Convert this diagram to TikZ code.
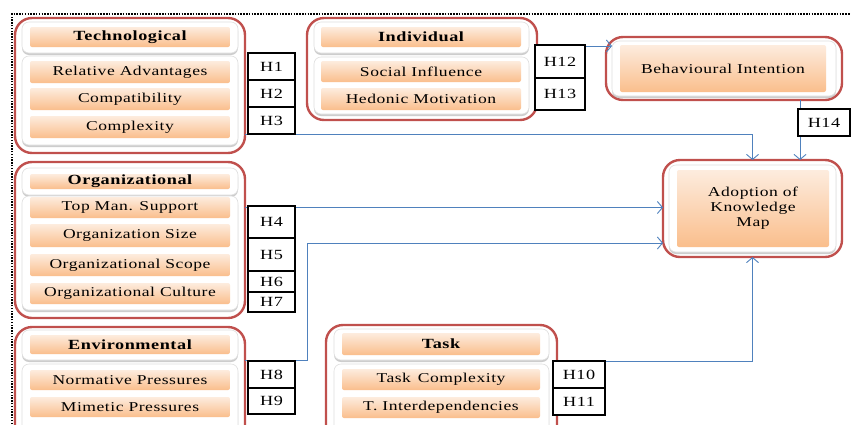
\documentclass[tikz,border=0pt]{standalone}
\usepackage{fontspec}
\setmainfont{Liberation Serif}[FakeStretch=1.3,LetterSpace=4]
\usetikzlibrary{arrows.meta,shadows}
\definecolor{redc}{RGB}{192,80,77}
\definecolor{bluec}{RGB}{79,129,189}
\definecolor{orTop}{RGB}{253,236,222}
\definecolor{orBot}{RGB}{250,190,140}
\tikzset{
  outerbox/.style={draw=redc,line width=2.4pt,rounded corners=17pt,fill=white},
  whitebox/.style={draw=gray!25,line width=0.6pt,rounded corners=7pt,fill=white,
     drop shadow={shadow xshift=0pt,shadow yshift=-2pt,fill=gray!55,opacity=0.7}},
  orangebox/.style={rounded corners=2pt,top color=orTop,bottom color=orBot,draw=none,
     font=\fontsize{13.5}{15}\selectfont},
  headbox/.style={orangebox,font=\fontsize{14}{15}\selectfont\bfseries},
  hbox/.style={draw=black,line width=1.3pt,fill=white,font=\fontsize{14}{15}\selectfont},
  conn/.style={draw=bluec,line width=0.9pt},
  arr/.style={conn,-{Straight Barb[length=5pt,width=12pt,line width=0.9pt]}},
  every node/.style={inner sep=0pt,outer sep=0pt,align=center}
}
\newcommand\boxat[7]{%
  \pgfmathsetmacro\bw{#5-#3}\pgfmathsetmacro\bh{#6-#4}%
  \node[#1,minimum width=\bw pt,minimum height=\bh pt,anchor=north west] (#2) at (#3,#4) {#7};}
\begin{document}
\begin{tikzpicture}[x=1pt,y=-1pt]
\useasboundingbox (0,0) rectangle (851,424);
% dotted frame
\draw[line width=1.5pt,dash pattern=on 1.5pt off 1.3pt] (12,424) -- (12,14) -- (851,14);

\coordinate (envturn) at (307,243);

% Technological
\boxat{outerbox}{techouter}{15}{18}{245}{153}{}
\boxat{whitebox}{techhw}{22}{22}{238}{53}{}
\boxat{headbox}{techh}{30}{27}{230}{47}{Technological}
\boxat{whitebox}{techiw}{22}{56}{238}{145}{}
\boxat{orangebox}{ra}{30}{61}{230}{83}{Relative Advantages}
\boxat{orangebox}{comp}{30}{88}{230}{110}{Compatibility}
\boxat{orangebox}{cplx}{30}{116}{230}{138}{Complexity}

% Individual
\boxat{outerbox}{indouter}{307}{18}{537}{120}{}
\boxat{whitebox}{indhw}{314}{22}{529}{53}{}
\boxat{headbox}{indh}{321}{27}{521}{47}{Individual}
\boxat{whitebox}{indiw}{314}{57}{529}{114}{}
\boxat{orangebox}{si}{321}{61}{521}{82}{Social Influence}
\boxat{orangebox}{hm}{321}{88}{521}{110}{Hedonic Motivation}

% Organizational
\boxat{outerbox}{orgouter}{15}{162}{245}{318}{}
\boxat{whitebox}{orghw}{22}{168}{238}{195}{}
\boxat{headbox}{orgh}{30}{174}{230}{189}{Organizational}
\boxat{whitebox}{orgiw}{22}{196}{238}{310}{}
\boxat{orangebox}{tms}{30}{197}{230}{218}{Top Man. Support}
\boxat{orangebox}{os}{30}{224}{230}{247}{Organization Size}
\boxat{orangebox}{osc}{30}{254}{230}{276}{Organizational Scope}
\boxat{orangebox}{oc}{30}{283}{230}{304}{Organizational Culture}

% Environmental
\boxat{outerbox}{envouter}{15}{327}{245}{445}{}
\boxat{whitebox}{envhw}{22}{330}{238}{360}{}
\boxat{headbox}{envh}{30}{335}{230}{354}{Environmental}
\boxat{whitebox}{enviw}{22}{364}{238}{435}{}
\boxat{orangebox}{np}{30}{370}{230}{390}{Normative Pressures}
\boxat{orangebox}{mp}{30}{397}{230}{417}{Mimetic Pressures}

% Task
\boxat{outerbox}{taskouter}{326}{325}{557}{445}{}
\boxat{whitebox}{taskhw}{334}{329}{549}{360}{}
\boxat{headbox}{taskh}{342}{333}{540}{355}{Task}
\boxat{whitebox}{taskiw}{334}{364}{549}{435}{}
\boxat{orangebox}{tc}{342}{369}{540}{390}{Task\enspace Complexity}
\boxat{orangebox}{ti}{342}{397}{540}{418}{T. Interdependencies}

% Behavioural Intention
\boxat{outerbox}{bi}{606}{37}{842}{100}{}
\boxat{whitebox}{biw}{612}{41}{836}{96}{}
\boxat{orangebox}{bin}{620}{45}{826}{92}{Behavioural Intention}

% Adoption
\boxat{outerbox}{adopt}{663}{160}{842}{257}{}
\boxat{whitebox}{adoptw}{669}{165}{836}{252}{}
\boxat{orangebox}{adoptin}{677}{170}{829}{247}{Adoption of\\[0pt]Knowledge\\[0pt]Map}

% connectors
\draw[arr] (techouter.east |- 0,134) -- (adopt.north |- 0,134) -- (adopt.north);
\draw[arr] (orgouter.east |- tms.east) -- (adopt.west |- tms.east);
\draw[arr] (envouter.east |- 0,360) -| (envturn) -- (adopt.west |- envturn);
\draw[arr] (taskouter.east |- 0,361) -| (adopt.south);
\draw[arr] (indouter.east |- 0,46) -- ([xshift=6pt]bi.west |- 0,46);
\coordinate (bibot) at (800,100);
\draw[arr] (bibot) -- (adopt.north -| bibot);

% hypothesis boxes
\boxat{hbox}{h1}{248}{53}{295}{80}{H1}
\boxat{hbox}{h2}{248}{80}{295}{107}{H2}
\boxat{hbox}{h3}{248}{107}{295}{134}{H3}
\boxat{hbox}{h4}{248}{206}{295}{238}{H4}
\boxat{hbox}{h5}{248}{238}{295}{271}{H5}
\boxat{hbox}{h6}{248}{271}{295}{292}{H6}
\boxat{hbox}{h7}{248}{292}{295}{312}{H7}
\boxat{hbox}{h8}{248}{361}{295}{388}{H8}
\boxat{hbox}{h9}{248}{388}{295}{414}{H9}
\boxat{hbox}{h10}{553}{361}{605}{388}{H10}
\boxat{hbox}{h11}{553}{388}{605}{415}{H11}
\boxat{hbox}{h12}{535}{45}{585}{78}{H12}
\boxat{hbox}{h13}{535}{78}{585}{110}{H13}
\boxat{hbox}{h14}{798}{109}{850}{136}{H14}
\end{tikzpicture}
\end{document}
